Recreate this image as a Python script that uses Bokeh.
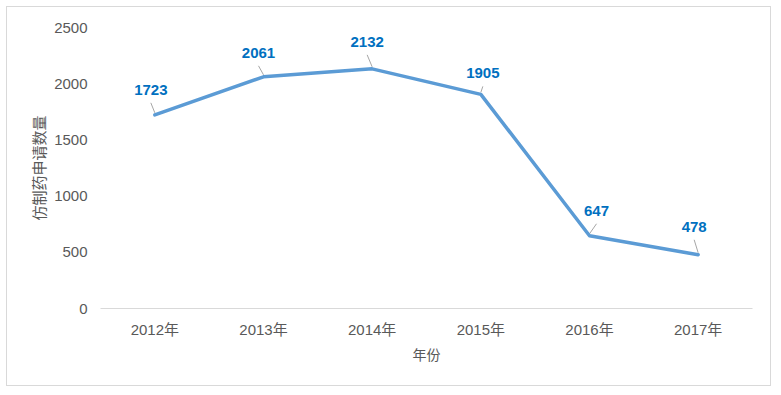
from bokeh.plotting import figure
from bokeh.models import Range1d, FixedTicker, ColumnDataSource
from bokeh.core.properties import value
from bokeh.embed import file_html
from bokeh.resources import INLINE

categories = ["2012年", "2013年", "2014年", "2015年", "2016年", "2017年"]
counts = [1723, 2061, 2132, 1905, 647, 478]
y_ticks = [0, 500, 1000, 1500, 2000, 2500]

# label placement (screen px): horizontal shift and height above point
label_dx = [-4, -5, -5, 2, 7, -4]
label_up = [25, 24, 27, 21, 25, 28]

W, H = 765, 380
ML, MR, MT, MB = 93, 20, 20, 79
YMAX = 2500
frame_w = W - ML - MR
frame_h = H - MT - MB
px_x = frame_w / len(categories)
px_y = frame_h / YMAX

xs = list(range(len(categories)))

p = figure(width=W, height=H, output_backend="svg", toolbar_location=None,
           x_range=Range1d(-0.5, len(categories) - 0.5), y_range=Range1d(0, YMAX),
           min_border_left=ML, min_border_right=MR, min_border_top=MT, min_border_bottom=MB)
p.styles = {"margin-left": "6px", "margin-top": "6px", "border": "1px solid #d9d9d9"}
p.outline_line_color = None
p.xgrid.grid_line_color = None
p.ygrid.grid_line_color = None

CJK = "Liberation Sans, Noto Sans CJK SC"
p.xaxis.ticker = FixedTicker(ticks=xs)
p.xaxis.major_label_overrides = {i: c for i, c in enumerate(categories)}
p.xaxis.axis_line_color = "#d9d9d9"
p.xaxis.axis_line_width = 1
p.xaxis.major_tick_line_color = None
p.xaxis.minor_tick_line_color = None
p.xaxis.major_label_standoff = 6
p.xaxis.major_label_text_font = CJK
p.xaxis.major_label_text_font_size = "15px"
p.xaxis.major_label_text_color = "#595959"
p.xaxis.axis_label = "年份"
p.xaxis.axis_label_text_font = "Noto Sans CJK SC"
p.xaxis.axis_label_text_font_style = "normal"
p.xaxis.axis_label_text_font_size = "14px"
p.xaxis.axis_label_text_color = "#595959"
p.xaxis.axis_label_standoff = 3

p.yaxis.ticker = FixedTicker(ticks=y_ticks)
p.yaxis.axis_line_color = None
p.yaxis.major_tick_line_color = None
p.yaxis.minor_tick_line_color = None
p.yaxis.major_label_standoff = 7
p.yaxis.major_label_text_font = CJK
p.yaxis.major_label_text_font_size = "15px"
p.yaxis.major_label_text_color = "#595959"
p.yaxis.axis_label = "仿制药申请数量"
p.yaxis.axis_label_text_font = "Noto Sans CJK SC"
p.yaxis.axis_label_text_font_style = "normal"
p.yaxis.axis_label_text_font_size = "15px"
p.yaxis.axis_label_text_color = "#595959"
p.yaxis.axis_label_standoff = 2

src = ColumnDataSource(dict(
    x=xs, y=counts, lbl=[str(v) for v in counts],
    dx=label_dx, dy=[-u for u in label_up],
    x0=xs, y0=[v + 2 / px_y for v in counts],
    x1=[i + d / px_x for i, d in zip(xs, label_dx)],
    y1=[v + (u - 13) / px_y for v, u in zip(counts, label_up)],
))

p.segment(x0="x0", y0="y0", x1="x1", y1="y1", source=src,
          line_color="#a6a6a6", line_width=1)
p.line(x="x", y="y", source=src, line_color="#5b9bd5", line_width=3.5,
       line_join="round", line_cap="round")
p.text(x="x", y="y", text="lbl", source=src, x_offset="dx", y_offset="dy",
       text_align="center", text_baseline="middle",
       text_font=value("Liberation Sans"), text_font_style="bold",
       text_font_size="15px", text_color="#0070c0")

open("out.html", "w").write(file_html(p, INLINE))
